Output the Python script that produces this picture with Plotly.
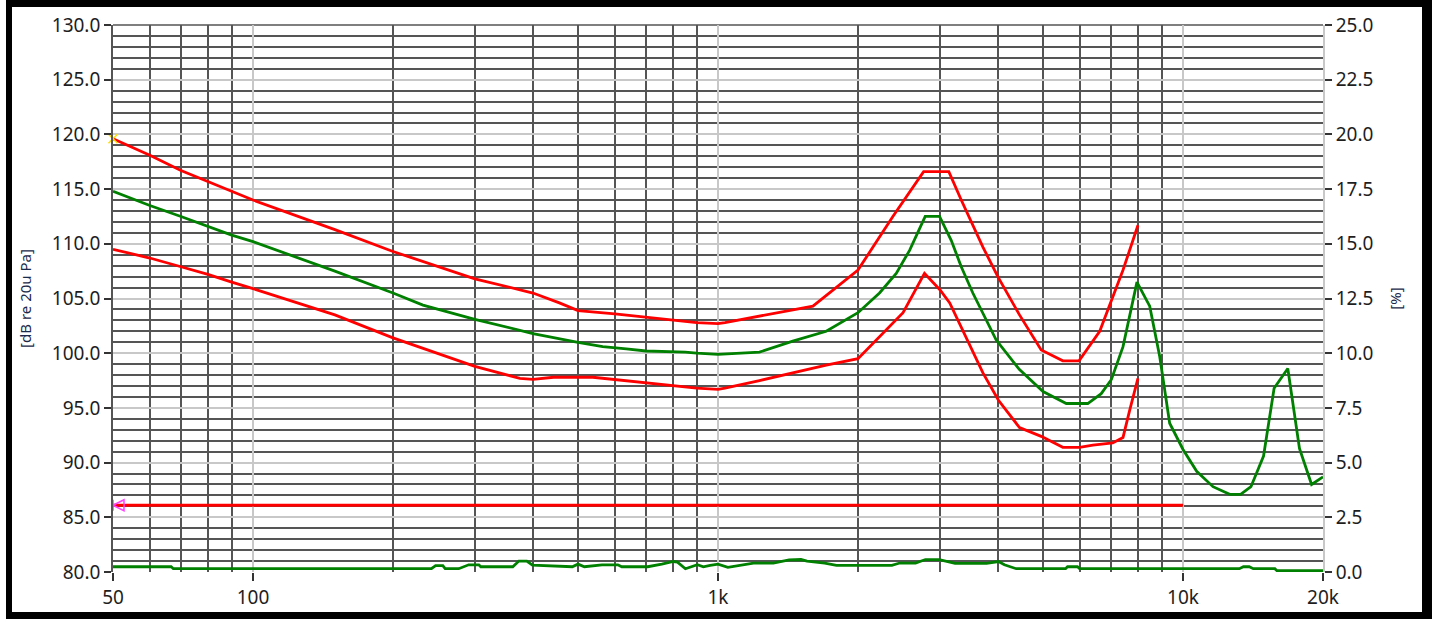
import plotly.graph_objects as go

# ---------------- data ----------------
upper_f = [50, 60, 70, 80, 90, 100, 150, 200, 300, 400, 456, 500, 600, 700, 800, 900, 1000, 1035,
           1600, 2000, 2377, 2768, 3136, 3335, 3713, 3997, 4450, 4955, 5515, 5975, 6620, 7015, 7430, 8000]
upper_db = [119.6, 118.1, 116.7, 115.7, 114.8, 114.0, 111.3, 109.3, 106.8, 105.5, 104.6, 103.9, 103.6, 103.3,
            103.0, 102.8, 102.7, 102.8, 104.3, 107.6, 112.5, 116.6, 116.6, 114.0, 109.7, 107.0, 103.5, 100.3,
            99.3, 99.3, 102.0, 104.9, 107.6, 111.7]

resp_f = [50, 60, 70, 80, 90, 100, 150, 200, 232, 300, 400, 500, 565, 635, 700, 850, 900, 1000, 1110, 1228,
          1448, 1709, 2000, 2225, 2417, 2582, 2790, 2995, 3175, 3335, 3532, 3966, 4450, 5000, 5610, 6240,
          6670, 7015, 7430, 7680, 7960, 8480, 8910, 9360, 10000, 10700, 11600, 12600, 13300, 14000, 14900,
          15700, 16800, 17800, 18900, 20000]
resp_db = [114.8, 113.5, 112.5, 111.6, 110.8, 110.2, 107.5, 105.5, 104.4, 103.1, 101.8, 101.0, 100.6, 100.4,
           100.2, 100.1, 100.0, 99.9, 100.0, 100.1, 101.1, 102.0, 103.7, 105.5, 107.3, 109.4, 112.5, 112.5,
           110.3, 107.9, 105.5, 101.2, 98.5, 96.5, 95.4, 95.4, 96.3, 97.6, 100.6, 103.3, 106.5, 104.3, 99.7,
           93.6, 91.2, 89.2, 87.8, 87.1, 87.1, 87.8, 90.6, 96.8, 98.6, 91.3, 88.0, 88.7]

lower_f = [50, 60, 70, 80, 90, 100, 150, 200, 300, 375, 400, 443, 538, 594, 700, 800, 900, 1000, 1035, 1228,
           1448, 1709, 2000, 2118, 2500, 2780, 3000, 3150, 3444, 3713, 4010, 4450, 4955, 5515, 5990, 6400,
           7060, 7430, 7680, 8000]
lower_db = [109.5, 108.7, 107.9, 107.2, 106.5, 105.9, 103.5, 101.4, 98.8, 97.7, 97.6, 97.8, 97.8, 97.6, 97.3,
            97.0, 96.8, 96.7, 96.8, 97.5, 98.2, 98.9, 99.5, 100.6, 103.7, 107.3, 105.8, 104.6, 101.2, 98.2,
            95.7, 93.2, 92.4, 91.4, 91.4, 91.6, 91.8, 92.3, 94.8, 97.7]

thd_limit_f = [50, 10000]
thd_limit_pct = [3.05, 3.05]

thd_f = [50, 66.7, 67.4, 242, 247, 256, 259, 277, 291, 306, 309, 362, 373, 388, 399, 486, 500, 516, 563,
         609, 621, 706, 757, 802, 818, 851, 903, 930, 962, 1000, 1050, 1123, 1192, 1315, 1422, 1508, 1554,
         1696, 1798, 2365, 2459, 2659, 2793, 2991, 3235, 3780, 4010, 4129, 4378, 5590, 5645, 5930, 5992,
         13220, 13485, 13880, 14160, 15760, 15920, 20000]
thd_pct = [0.24, 0.24, 0.15, 0.15, 0.29, 0.29, 0.15, 0.15, 0.33, 0.33, 0.24, 0.24, 0.50, 0.50, 0.31, 0.24,
           0.36, 0.24, 0.33, 0.33, 0.24, 0.24, 0.36, 0.48, 0.45, 0.15, 0.33, 0.24, 0.30, 0.36, 0.21, 0.30,
           0.41, 0.41, 0.55, 0.57, 0.50, 0.41, 0.30, 0.30, 0.41, 0.41, 0.57, 0.57, 0.39, 0.39, 0.48, 0.33,
           0.15, 0.15, 0.24, 0.24, 0.15, 0.15, 0.24, 0.24, 0.15, 0.15, 0.06, 0.06]

x_tickvals = [50, 100, 1000, 10000, 20000]
x_ticktext = ["50", "100", "1k", "10k", "20k"]

# ---------------- figure ----------------
RED = "#ff0000"
GREEN = "#008000"
LIGHT = "#c8c8c8"
DARK = "#555555"
TXT = "#1e1e1e"
FONT = "Noto Sans"

fig = go.Figure()
fig.add_trace(go.Scatter(x=upper_f, y=upper_db, mode="lines", line=dict(color=RED, width=2.8), yaxis="y"))
fig.add_trace(go.Scatter(x=resp_f, y=resp_db, mode="lines", line=dict(color=GREEN, width=2.8), yaxis="y"))
fig.add_trace(go.Scatter(x=lower_f, y=lower_db, mode="lines", line=dict(color=RED, width=2.8), yaxis="y"))
fig.add_trace(go.Scatter(x=thd_limit_f, y=thd_limit_pct, mode="lines", line=dict(color=RED, width=2.8), yaxis="y2"))
fig.add_trace(go.Scatter(x=thd_f, y=thd_pct, mode="lines", line=dict(color=GREEN, width=2.8), yaxis="y2"))
# cursor markers at start of limit curves
fig.add_trace(go.Scatter(x=upper_f[:1], y=upper_db[:1], mode="markers", cliponaxis=False,
                         marker=dict(symbol="x-thin-open", size=9, color="#ffe000",
                                     line=dict(color="#ffe000", width=1.5)),
                         yaxis="y"))
fig.add_trace(go.Scatter(x=thd_limit_f[:1], y=thd_limit_pct[:1], mode="markers", cliponaxis=False,
                         marker=dict(symbol="arrow-bar-left-open", size=11, color="#ff40ff",
                                     line=dict(color="#ff40ff", width=1.5)),
                         yaxis="y2"))

tickfont = dict(family=FONT, size=19, color=TXT)

fig.update_layout(
    width=1432, height=619,
    margin=dict(l=113, r=109, t=25, b=47, autoexpand=False),
    paper_bgcolor="white", plot_bgcolor="white",
    showlegend=False,
    xaxis=dict(
        type="log", range=[1.69897, 4.30103],
        tickvals=x_tickvals, ticktext=x_ticktext,
        showgrid=True, gridcolor=LIGHT, gridwidth=1.7,
        ticks="outside", ticklen=8, tickwidth=1.5, tickcolor="#333333",
        tickfont=tickfont, zeroline=False, showline=False,
        minor=dict(dtick="D1", showgrid=True, gridcolor=DARK, gridwidth=1.7, ticks=""),
    ),
    yaxis=dict(
        range=[80, 130], dtick=5, tick0=80, tickformat=".1f",
        showgrid=True, gridcolor=LIGHT, gridwidth=1.7,
        ticks="outside", ticklen=7, tickwidth=1.5, tickcolor="#333333",
        tickfont=tickfont, zeroline=False,
        showline=True, linecolor=DARK, linewidth=1.7,
        minor=dict(dtick=1, showgrid=True, gridcolor=DARK, gridwidth=1.7, ticks=""),
        title=dict(text="[dB re 20u Pa]", font=dict(family=FONT, size=15, color="#1a2a4a"), standoff=17),
    ),
    yaxis2=dict(
        range=[0, 25], dtick=2.5, tick0=0, tickformat=".1f",
        overlaying="y", side="right", showgrid=False, zeroline=False,
        ticks="outside", ticklen=7, tickwidth=1.5, tickcolor="#333333",
        tickfont=tickfont,
        showline=True, linecolor=LIGHT, linewidth=1.7,
        title=dict(text="[%]", font=dict(family=FONT, size=15, color="#1a2a4a"), standoff=18),
    ),
)

# dark top edge of plot area
fig.add_shape(type="line", xref="paper", yref="paper", x0=0, x1=1, y0=1, y1=1,
              line=dict(color=DARK, width=1.7), layer="below")

# black window frame
frame = [
    (-0.08843, -0.08347, -0.08592, 1.04570),   # left
    (1.08182, 1.09008, -0.08592, 1.04570),     # right
    (-0.08843, 1.09008, 1.03291, 1.04570),     # top
    (-0.08843, 1.09008, -0.08592, -0.07313),   # bottom
]
for x0, x1, y0, y1 in frame:
    fig.add_shape(type="rect", xref="paper", yref="paper", x0=x0, x1=x1, y0=y0, y1=y1,
                  fillcolor="black", line=dict(width=0), layer="above")

fig.write_html("out.html", config={"displayModeBar": False},
               post_script="document.body.style.margin='0';")
